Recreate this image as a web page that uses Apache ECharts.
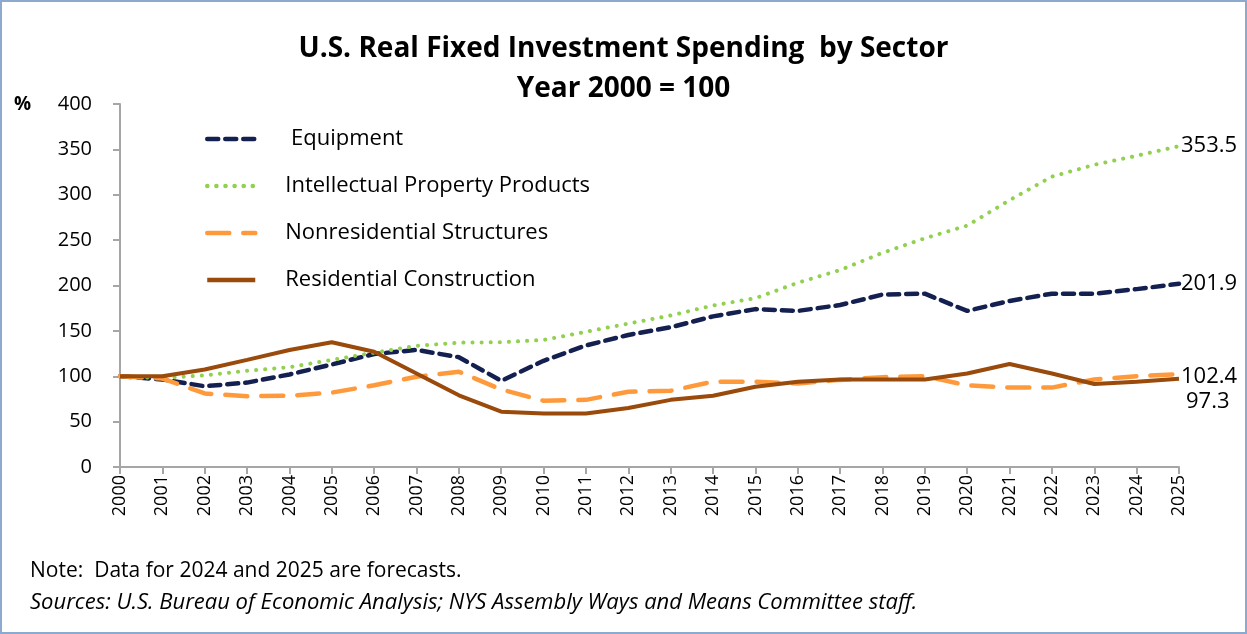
<!DOCTYPE html>
<html>
<head>
<meta charset="utf-8">
<script src="https://cdn.jsdelivr.net/npm/echarts@6/dist/echarts.min.js"></script>
<style>
html,body{margin:0;padding:0;background:#fff;}
#c{width:1247px;height:634px;}
</style>
</head>
<body>
<div id="c"></div>
<script>
const years = ['2000','2001','2002','2003','2004','2005','2006','2007','2008','2009','2010','2011','2012','2013','2014','2015','2016','2017','2018','2019','2020','2021','2022','2023','2024','2025'];
const equipment = [100,96.5,89,93,102,113,124.5,129,121,95,117,134,145.5,154,166,174,172,178.5,190,191,172,183,191,191,196,201.9];
const ipp = [100,98,101,106,110,118,126,133.5,137,137.5,140,149,158,167,178,186,203,217,236,252,266,294,320,333,343,353.5];
const nonres = [100,97.5,81,78,78.5,82,90,99.5,105,85.5,73,74,83,84,94,94,92,96,99,100,90,87.5,87.5,96.5,100,102.4];
const resid = [100,100,107.5,118,129,137.5,127,103,79,61,59,59,65,74,78.5,88.5,94,96.5,96.5,96.5,103,113.5,103,91.5,94,97.3];
const yTicks = [0,50,100,150,200,250,300,350,400];

const FONT = '"Open Sans", Lato, sans-serif';
const chart = echarts.init(document.getElementById('c'));

function mk(name, data, color, width, type, cap, labelOffset) {
  return {
    name, type: 'line', data, symbol: 'none', smooth: false,
    lineStyle: {color, width, type, cap},
    itemStyle: {color},
    endLabel: {show: true, formatter: p => p.value.toFixed(1), color: '#000',
      fontSize: 22, fontFamily: FONT, offset: labelOffset, distance: 2},
    emphasis: {disabled: true}
  };
}

chart.setOption({
  animation: false,
  backgroundColor: '#fff',
  title: {
    text: 'U.S. Real Fixed Investment Spending  by Sector\nYear 2000 = 100',
    left: 'center', top: 24,
    textStyle: {fontSize: 28, fontWeight: 'bold', fontFamily: FONT, color: '#000', lineHeight: 40}
  },
  graphic: [
    {type: 'rect', shape: {x: 1, y: 1, width: 1245, height: 632}, style: {fill: 'none', stroke: '#8EA9CF', lineWidth: 2}, silent: true},
    {type: 'text', left: 14, top: 95, style: {text: '%', fontSize: 19, fontWeight: 'bold', fontFamily: FONT, fill: '#000'}},
    {type: 'text', left: 30, top: 561, style: {text: 'Note:  Data for 2024 and 2025 are forecasts.', fontSize: 21, fontFamily: FONT, fill: '#000'}},
    {type: 'text', left: 30, top: 592, style: {text: 'Sources: U.S. Bureau of Economic Analysis; NYS Assembly Ways and Means Committee staff.', fontSize: 22, fontStyle: 'italic', fontFamily: FONT, fill: '#000'}}
  ],
  legend: {
    orient: 'vertical', left: 200, top: 123, itemWidth: 48, itemHeight: 14, itemGap: 25,
    itemStyle: {opacity: 0},
    lineStyle: {width: 4.5},
    formatter: n => n === 'Equipment' ? ' ' + n : n,
    textStyle: {fontSize: 22, fontFamily: FONT, color: '#000', padding: [0,0,0,25]},
    data: ['Equipment','Intellectual Property Products','Nonresidential Structures','Residential Construction']
  },
  grid: {left: 120, right: 68, top: 104, bottom: 167, containLabel: false},
  xAxis: {
    type: 'category', data: years, boundaryGap: false,
    axisLine: {lineStyle: {color: '#A6A6A6', width: 2}},
    axisTick: {show: true, length: 7, alignWithLabel: true, lineStyle: {color: '#A6A6A6', width: 2}},
    axisLabel: {rotate: 90, fontSize: 18, fontFamily: FONT, color: '#000', margin: 8, interval: 0},
    splitLine: {show: false}
  },
  yAxis: {
    type: 'value', min: yTicks[0], max: yTicks[yTicks.length-1], interval: 50,
    axisLine: {show: true, lineStyle: {color: '#A6A6A6', width: 2}},
    axisTick: {show: true, length: 7, lineStyle: {color: '#A6A6A6', width: 2}},
    axisLabel: {fontSize: 20, fontFamily: FONT, color: '#000', margin: 28},
    splitLine: {show: false}
  },
  series: [
    mk('Equipment', equipment, '#14204F', 4.5, [11, 7], 'round', [0, 0]),
    mk('Intellectual Property Products', ipp, '#92D050', 4, [0.1, 9], 'round', [0, 0]),
    mk('Nonresidential Structures', nonres, '#FF9A3C', 4.5, [22, 14], 'round', [0, 3]),
    mk('Residential Construction', resid, '#9A4A0A', 4, 'solid', 'butt', [5, 23])
  ]
});
</script>
</body>
</html>
